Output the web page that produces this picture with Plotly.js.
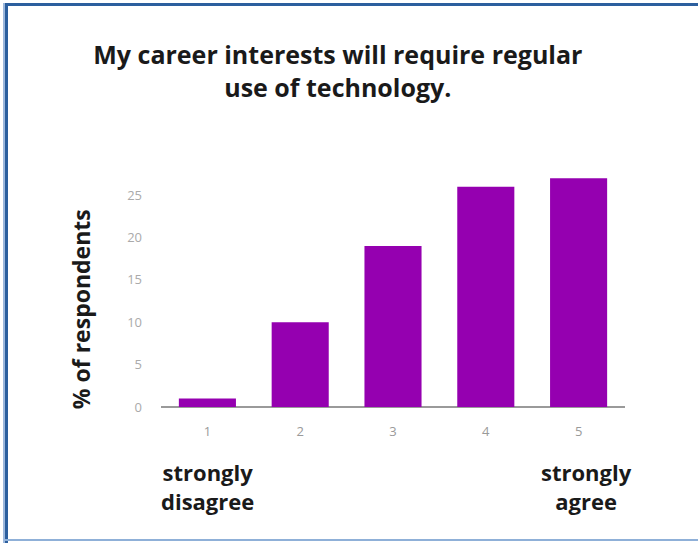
<!DOCTYPE html>
<html>
<head>
<meta charset="utf-8">
<script src="https://cdn.plot.ly/plotly-3.0.1.min.js"></script>
<style>
  html, body { margin: 0; padding: 0; background: #fff; }
  #wrap { position: relative; width: 698px; height: 543px; overflow: hidden; }
  #chart { position: absolute; left: 0; top: 0; width: 698px; height: 543px; }
  .bt { position: absolute; left: 5px; top: 3px; width: 693px; height: 3px; background: #2c5f9e; }
  .bl { position: absolute; left: 5px; top: 3px; width: 3px; height: 540px; background: #2c5f9e; }
  .bl2 { position: absolute; left: 3px; top: 3px; width: 2px; height: 540px; background: #9db8dc; }
  .bb { position: absolute; left: 5px; top: 539px; width: 693px; height: 2px; background: #8fb0d8; }
</style>
</head>
<body>
<div id="wrap">
  <div id="chart"></div>
  <div class="bt"></div><div class="bl2"></div><div class="bl"></div><div class="bb"></div>
</div>
<script>
const categories = ["1", "2", "3", "4", "5"];
const percentRespondents = [1, 10, 19, 26, 27];
const yTicks = [0, 5, 10, 15, 20, 25];
const chartTitle = "My career interests will require regular<br>use of technology.";
const yTitle = "% of respondents";
const endLabelCats = ["1", "5"];
const endLabelTexts = ["strongly<br>disagree", "strongly<br>agree"];
const endLabelShifts = [0, 8];

const trace = {
  type: "bar",
  x: categories,
  y: percentRespondents,
  marker: { color: "#9500b0" },
  hoverinfo: "x+y"
};

const boldFont = (size) => ({ family: "Open Sans", size: size, color: "#1a1a1a", weight: "bold" });

const annotations = endLabelCats.map((c, i) => ({
  x: categories.indexOf(c), xref: "x",
  xshift: endLabelShifts[i],
  y: 0, yref: "paper",
  yshift: -48,
  yanchor: "top",
  showarrow: false,
  text: endLabelTexts[i],
  align: "center",
  font: boldFont(22)
}));

annotations.push({
  x: 0, xref: "paper", xshift: -80,
  y: 0.42, yref: "paper",
  xanchor: "center", yanchor: "middle",
  textangle: -90,
  showarrow: false,
  text: yTitle,
  font: boldFont(23)
});

const layout = {
  width: 698,
  height: 543,
  margin: { l: 161, r: 73, t: 174, b: 136 },
  paper_bgcolor: "#ffffff",
  plot_bgcolor: "#ffffff",
  bargap: 0.385,
  showlegend: false,
  title: {
    text: chartTitle,
    font: boldFont(25),
    x: 0.484, xanchor: "center",
    y: 0.882, yanchor: "top"
  },
  xaxis: {
    type: "category",
    range: [-0.5, 4.5],
    showgrid: false,
    zeroline: false,
    showline: false,
    ticks: "",
    tickfont: { family: "Open Sans", size: 13, color: "#9a9a9a" },
    ticklabelstandoff: 15
  },
  yaxis: {
    range: [0, 27.5],
    tickvals: yTicks,
    showgrid: false,
    zeroline: true,
    zerolinecolor: "#9a9a9a",
    zerolinewidth: 2,
    showline: false,
    ticks: "",
    tickfont: { family: "Open Sans", size: 13, color: "#aaaaaa" },
    ticklabelstandoff: 18
  },
  annotations: annotations
};

Plotly.newPlot("chart", [trace], layout, { displayModeBar: false, staticPlot: true });
</script>
</body>
</html>
